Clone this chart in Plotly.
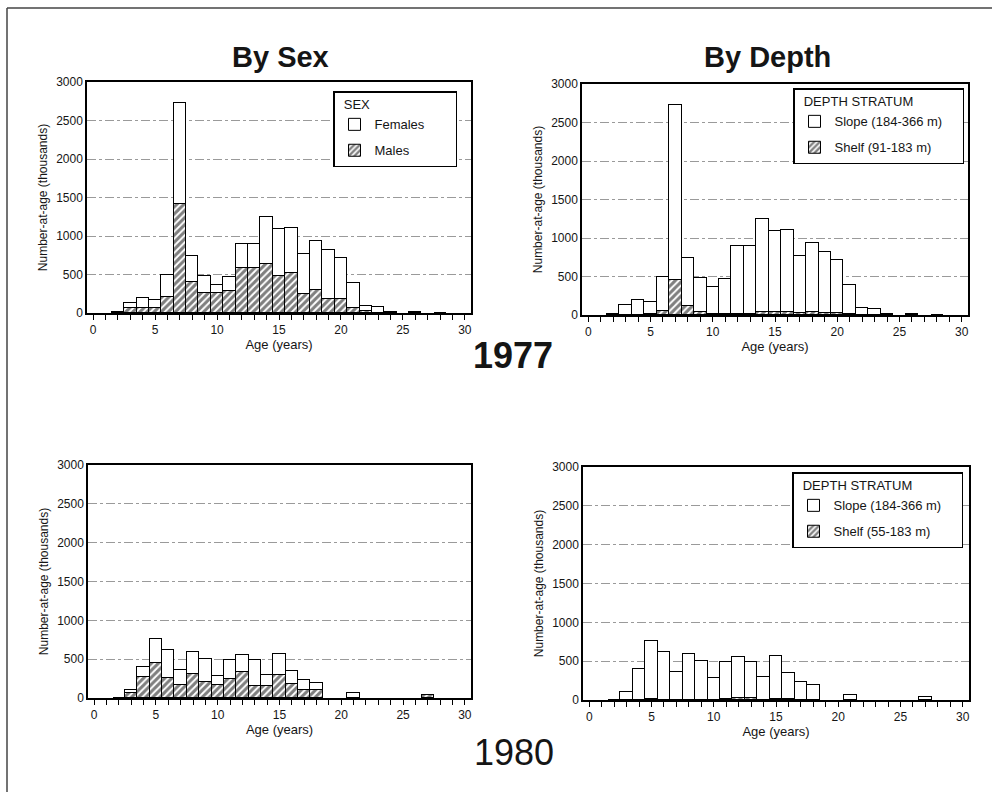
import plotly.graph_objects as go

W, H = 992, 792

ages = list(range(2, 29))
# 1977 by sex (thousands)
males_1977 = [0, 65, 70, 70, 210, 1410, 405, 265, 265, 290, 585, 590, 630, 480, 515, 245, 295, 180, 180, 65, 20, 0, 0, 0, 10, 0, 0]
females_1977 = [10, 65, 130, 95, 290, 1320, 340, 220, 100, 180, 315, 310, 615, 610, 590, 515, 645, 635, 530, 325, 70, 75, 8, 0, 5, 0, 5]
# 1977 by depth
shelf_1977 = [0, 0, 0, 10, 50, 455, 115, 40, 15, 15, 15, 15, 35, 35, 35, 25, 35, 30, 25, 10, 0, 0, 0, 0, 0, 0, 0]
slope_1977 = [10, 130, 200, 155, 450, 2275, 630, 445, 350, 455, 885, 885, 1210, 1055, 1070, 735, 905, 785, 685, 380, 90, 75, 8, 0, 15, 0, 5]
# 1980 by sex
males_1980 = [0, 70, 265, 445, 257, 170, 313, 200, 163, 250, 335, 150, 150, 295, 180, 100, 100, 0, 0, 0, 0, 0, 0, 0, 0, 35, 0]
females_1980 = [5, 30, 135, 315, 363, 195, 277, 297, 117, 245, 222, 335, 150, 267, 163, 128, 90, 0, 0, 62, 0, 0, 0, 0, 0, 9, 0]
# 1980 by depth
shelf_1980 = [0, 0, 0, 8, 0, 0, 0, 0, 0, 10, 20, 25, 0, 10, 8, 0, 0, 0, 0, 0, 0, 0, 0, 0, 0, 0, 0]
slope_1980 = [5, 100, 400, 752, 620, 365, 590, 497, 280, 485, 537, 460, 300, 552, 335, 228, 190, 0, 0, 62, 0, 0, 0, 0, 0, 44, 0]

x_ticks = [0, 5, 10, 15, 20, 25, 30]
y_ticks = [0, 500, 1000, 1500, 2000, 2500, 3000]

FONT = "Liberation Sans, Arial, sans-serif"
INK = "#151515"


def nz(vals):
    return [v if v else None for v in vals]


def bar(name, vals, hatched, xa, ya, legend, show):
    pattern = dict(shape="/", fgcolor="black", bgcolor="white", size=5, solidity=0.6) if hatched else dict(shape="")
    return go.Bar(
        x=ages, y=nz(vals), name=name, width=1,
        marker=dict(color="white", line=dict(color="black", width=1), pattern=pattern),
        xaxis=xa, yaxis=ya, legend=legend, showlegend=show, legendgroup=legend + name,
        legendrank=2000 if hatched else 1000,
    )


fig = go.Figure()
fig.add_trace(bar("Males", males_1977, True, "x", "y", "legend", True))
fig.add_trace(bar("Females", females_1977, False, "x", "y", "legend", True))
fig.add_trace(bar("Shelf (91-183 m)", shelf_1977, True, "x2", "y2", "legend2", True))
fig.add_trace(bar("Slope (184-366 m)", slope_1977, False, "x2", "y2", "legend2", True))
fig.add_trace(bar("Males", males_1980, True, "x3", "y3", "legend", False))
fig.add_trace(bar("Females", females_1980, False, "x3", "y3", "legend", False))
fig.add_trace(bar("Shelf (55-183 m)", shelf_1980, True, "x4", "y4", "legend3", True))
fig.add_trace(bar("Slope (184-366 m)", slope_1980, False, "x4", "y4", "legend3", True))


def px_x(a, b):
    return [a / W, b / W]


def px_y(top, bottom):
    return [(H - bottom) / H, (H - top) / H]


def xax(dom, anchor):
    return dict(
        domain=dom, anchor=anchor, range=[-0.5, 30.5], tickvals=x_ticks,
        ticks="outside", ticklen=5, tickwidth=1, tickcolor="black",
        minor=dict(dtick=1, tick0=0, ticks="outside", ticklen=5, tickwidth=1, tickcolor="black", showgrid=False),
        showline=True, mirror=True, linecolor="black", linewidth=1.5,
        showgrid=False, zeroline=False, automargin=False,
        tickfont=dict(size=12, color=INK, family=FONT),
        title=dict(text="Age (years)", font=dict(size=13, color=INK, family=FONT), standoff=4),
    )


def yax(dom, anchor):
    return dict(
        domain=dom, anchor=anchor, range=[0, 3000], tickvals=y_ticks,
        ticks="", showline=True, mirror=True, linecolor="black", linewidth=1.5,
        showgrid=True, gridcolor="#9a9a9a", griddash="dashdot", gridwidth=1,
        zeroline=False, automargin=False,
        tickfont=dict(size=12, color=INK, family=FONT),
        title=dict(text="Number-at-age (thousands)", font=dict(size=12, color=INK, family=FONT), standoff=6),
    )


def leg(x, y, title, pad):
    return dict(
        x=x / W, y=(H - y) / H, xanchor="left", yanchor="top",
        title=dict(text="&nbsp;&nbsp;" + title + "&nbsp;" * pad, font=dict(size=13, family=FONT, color=INK)),
        font=dict(size=13, family=FONT, color=INK),
        bordercolor="black", borderwidth=1.5, bgcolor="white",
        traceorder="grouped", itemwidth=30, tracegroupgap=6,
    )


def note(text, x, y, size):
    return dict(text=text, x=x / W, y=(H - y) / H, xref="paper", yref="paper",
                xanchor="center", yanchor="middle", showarrow=False,
                font=dict(size=size, family=FONT, color=INK))


fig.update_layout(
    width=W, height=H, margin=dict(l=0, r=0, t=0, b=0, autoexpand=False),
    paper_bgcolor="white", plot_bgcolor="white",
    barmode="stack", bargap=0,
    font=dict(family=FONT, color=INK),
    xaxis=xax(px_x(87, 471), "y"), yaxis=yax(px_y(82, 313), "x"),
    xaxis2=xax(px_x(582, 968), "y2"), yaxis2=yax(px_y(84, 315), "x2"),
    xaxis3=xax(px_x(88, 471), "y3"), yaxis3=yax(px_y(465, 698), "x3"),
    xaxis4=xax(px_x(583, 969), "y4"), yaxis4=yax(px_y(467, 700), "x4"),
    legend=leg(333, 91, "SEX", 23),
    legend2=leg(793, 88, "DEPTH STRATUM", 13),
    legend3=leg(792, 472, "DEPTH STRATUM", 13),
    annotations=[
        note("<b>By Sex</b>", 280, 57, 29),
        note("<b>By Depth</b>", 767, 57, 29),
        note("<b>1977</b>", 513, 355, 36),
        note("1980", 514, 752, 36),
    ],
    shapes=[
        dict(type="line", xref="paper", yref="paper", x0=7 / W, x1=1, y0=(H - 8) / H, y1=(H - 8) / H,
             line=dict(color="#444", width=1.5)),
        dict(type="line", xref="paper", yref="paper", x0=7 / W, x1=7 / W, y0=0, y1=(H - 8) / H,
             line=dict(color="#444", width=1.5)),
    ],
)

fig.write_html(
    "out.html",
    config={"displayModeBar": False},
    post_script="document.body.style.margin='0';document.body.style.overflow='hidden';",
)
